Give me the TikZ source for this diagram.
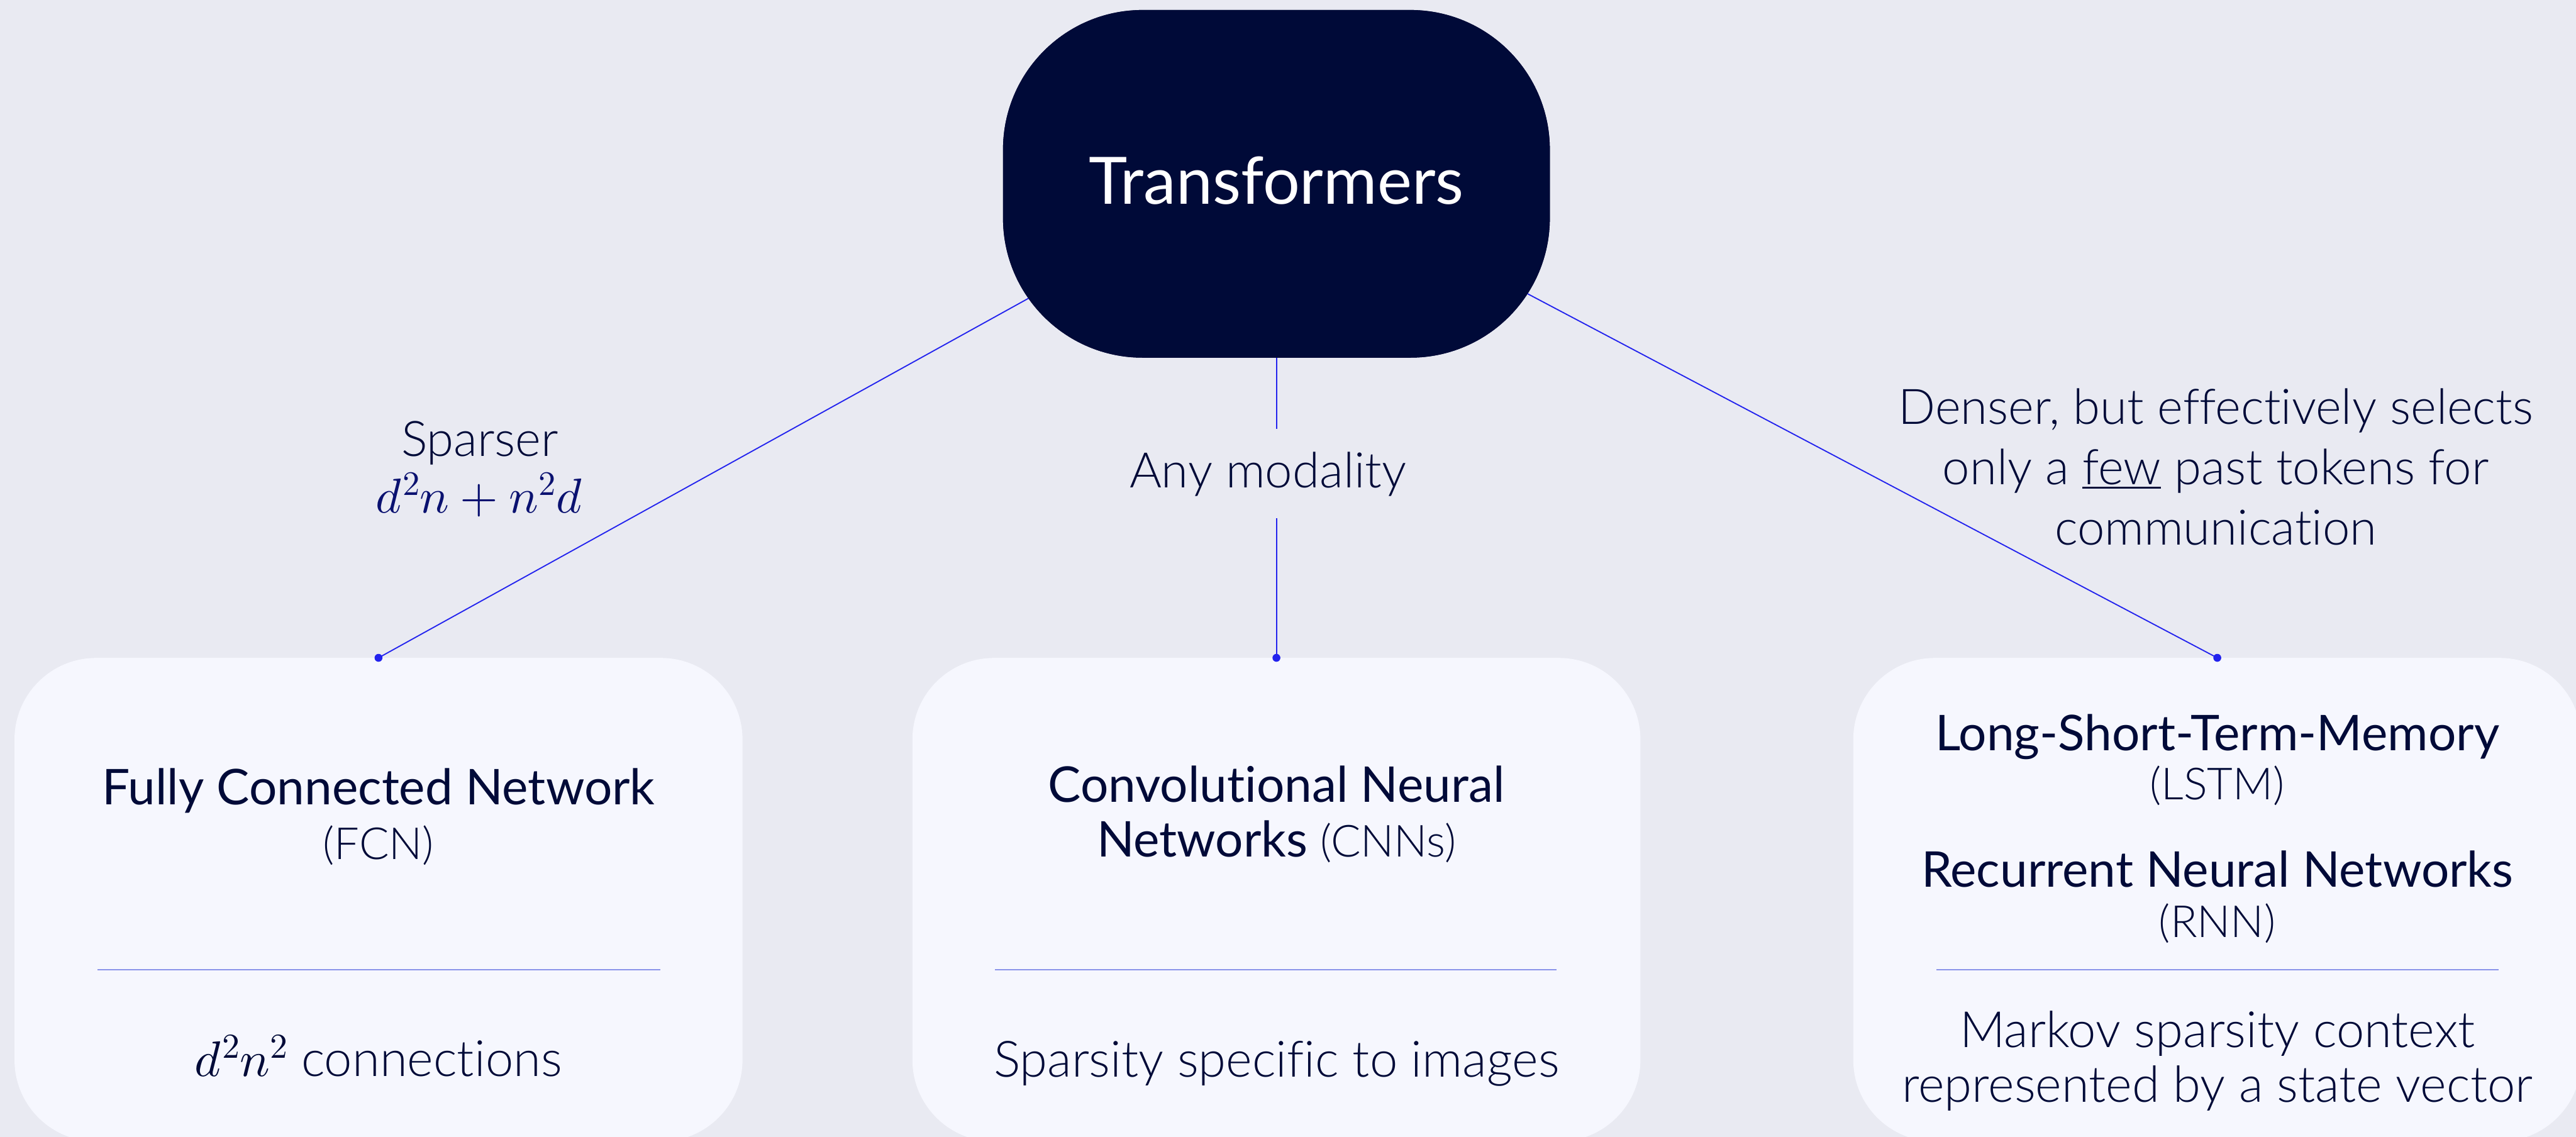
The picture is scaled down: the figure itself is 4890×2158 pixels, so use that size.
\documentclass[tikz,border=0pt]{standalone}
\usepackage{fontspec}
\usepackage{unicode-math}
\setmainfont{Lato}[Ligatures={NoCommon,NoContextual}]
\newfontfamily\lightf{Lato Light}[Ligatures={NoCommon,NoContextual}]
\usetikzlibrary{calc}

\definecolor{bgc}{HTML}{E9EAF2}
\definecolor{boxc}{HTML}{F6F7FE}
\definecolor{navy}{HTML}{000A38}
\definecolor{mathc}{HTML}{0A1170}
\definecolor{linec}{HTML}{2222EE}
\definecolor{sepc}{HTML}{8A93EA}

% underline drawn as a rule just below the baseline
\newcommand\ulword[1]{\setbox0\hbox{#1}\rlap{\rule[-8pt]{\wd0}{4.5pt}}\box0\relax}

\tikzset{
  topbox/.style={fill=navy, rounded corners=265pt, minimum width=1038pt,
    minimum height=660pt, inner sep=0pt},
  netbox/.style={fill=boxc, rounded corners=155pt, minimum width=1382pt,
    minimum height=918pt, inner sep=0pt},
  conn/.style={draw=linec, line width=2.2pt},
  sepline/.style={draw=sepc, line width=2pt},
  dot/.style={fill=linec},
  txt/.style={inner sep=0pt, anchor=base, text=navy},
  headtxt/.style={inner sep=0pt, anchor=base, text=white,
    font=\fontsize{124}{140}\selectfont},
  title/.style={txt, font=\fontsize{93.5}{110}\selectfont},
  abbr/.style={txt, font=\lightf\fontsize{84}{100}\selectfont},
  desc/.style={txt, font=\lightf\fontsize{95}{110}\selectfont},
  lbl/.style={txt, font=\lightf\fontsize{93}{110}\selectfont},
}

\begin{document}
\begin{tikzpicture}[x=1pt,y=-1pt]
\fill[bgc] (0,0) rectangle (4890,2158);
\useasboundingbox (0,0) rectangle (4890,2158);

% boxes
\node[topbox] (T) at (2423,349) {};
\node[netbox] (fcn) at (718.5,1708) {};
\node[netbox] (cnn) at (2423,1708) {};
\node[netbox] (rnn) at (4209,1708) {};
\coordinate (aim) at ($(T.center)+(0,-43)$);

% side connectors, aimed into the top box and covered by it
\draw[conn] (fcn.north) -- (aim);
\draw[conn] (rnn.north) -- (aim);
\node[topbox] at (T.center) {};
\node[headtxt] at (2423,387) {Transformers};

% middle connector with its label
\node[lbl, text height=112pt, text depth=58pt] (mod) at (2407,926) {Any modality};
\draw[conn] (T.south) -- (T.south |- mod.north);
\draw[conn] (T.south |- mod.south) -- (cnn.north);

% endpoint dots
\fill[dot] (fcn.north) circle (7.5pt);
\fill[dot] (cnn.north) circle (7.5pt);
\fill[dot] (rnn.north) circle (7.5pt);

% edge labels
\node[lbl] (sp) at (911,866) {Sparser};
\node[lbl, text=mathc] (spm) at (910,974) {$d^2n+n^2d$};
\node[lbl] (dn1) at (4206,805) {Denser, but effectively selects};
\node[lbl] (dn2) at (4206,920) {only a \ulword{few} past tokens for};
\node[lbl] (dn3) at (4206,1034) {communication};

% separators inside the boxes
\draw[sepline] (185,1841) -- (1253,1841);
\draw[sepline] (1889,1841) -- (2955,1841);
\draw[sepline] (3676,1841) -- (4743,1841);

% fully connected network
\node[title] at (718.5,1528) {Fully Connected Network};
\node[abbr] at (718.5,1631) {(FCN)};
\node[desc] at (718.5,2043) {$d^2n^2$ connections};

% convolutional networks
\node[title] at (2423,1523) {Convolutional Neural};
\node[title] at (2423,1627) {Networks {\lightf\fontsize{84}{100}\selectfont(CNNs)}};
\node[desc] at (2423,2044) {Sparsity specific to images};

% recurrent networks
\node[title] at (4209,1425) {Long-Short-Term-Memory};
\node[abbr] at (4209,1518) {(LSTM)};
\node[title] at (4209,1684) {Recurrent Neural Networks};
\node[abbr] at (4209,1779) {(RNN)};
\node[desc] at (4209,1988) {Markov sparsity context};
\node[desc] at (4209,2092) {represented by a state vector};
\end{tikzpicture}
\end{document}
